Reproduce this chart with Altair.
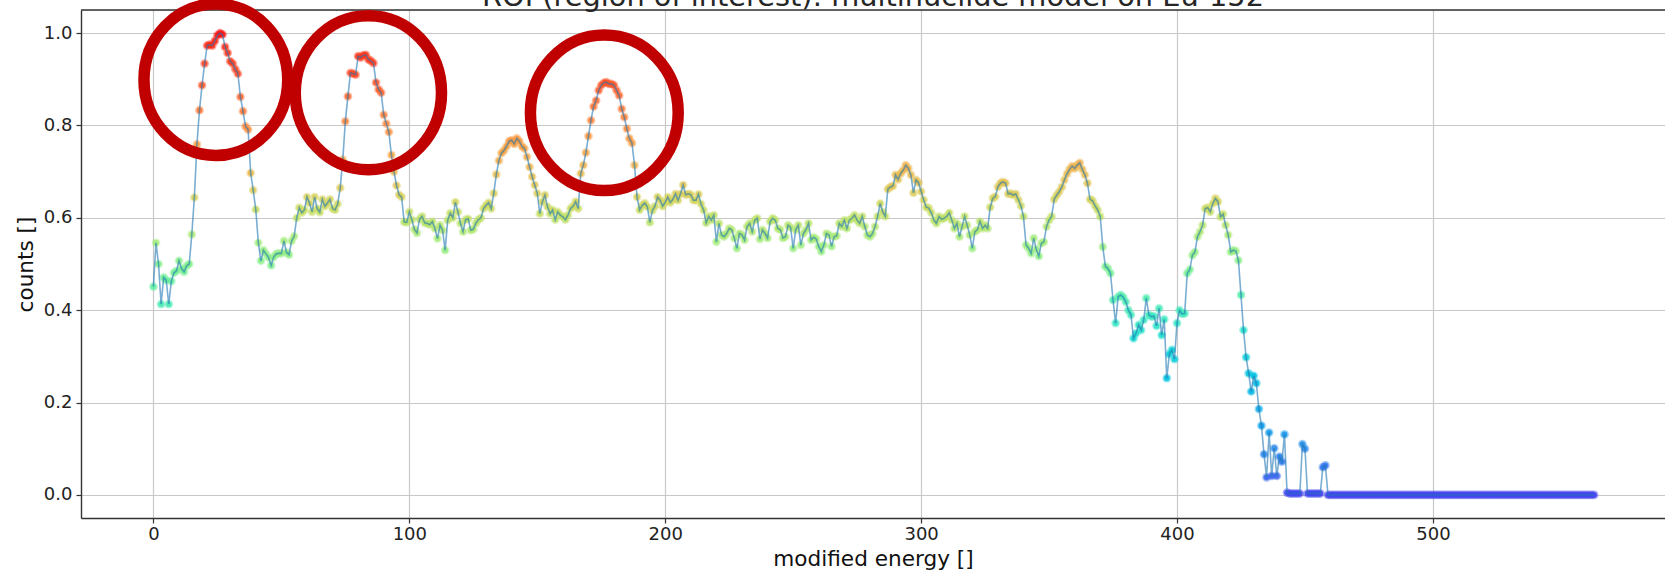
import altair as alt
import pandas as pd

# ---- data (counts per modified-energy channel) ----
seg_a = [0.451, 0.546, 0.500, 0.413, 0.471, 0.465, 0.413, 0.463, 0.481, 0.485,
         0.507, 0.490, 0.483, 0.496, 0.500, 0.564, 0.644, 0.759, 0.833, 0.887,
         0.934, 0.973, 0.975, 0.973, 0.983, 0.995, 1.000, 0.997, 0.970, 0.957,
         0.939, 0.934, 0.922, 0.912, 0.862, 0.831, 0.798, 0.791, 0.697, 0.660,
         0.618, 0.546, 0.507, 0.530, 0.522, 0.514, 0.497, 0.515, 0.522, 0.523,
         0.523, 0.550, 0.525, 0.520, 0.550, 0.560, 0.600, 0.622, 0.611, 0.617]
seg_b = [0.645, 0.632, 0.613, 0.645, 0.620, 0.612, 0.640, 0.625, 0.632, 0.640,
         0.620, 0.617, 0.630, 0.665, 0.726, 0.809, 0.863, 0.914, 0.912, 0.910,
         0.950, 0.947, 0.952, 0.953, 0.943, 0.940, 0.935, 0.893, 0.878, 0.871,
         0.823, 0.804, 0.786, 0.736, 0.700, 0.670, 0.650, 0.645, 0.591, 0.590]
seg_c = [0.613, 0.596, 0.575, 0.567, 0.597, 0.603, 0.589, 0.588, 0.585, 0.592,
         0.577, 0.555, 0.584, 0.573, 0.530, 0.595, 0.610, 0.600, 0.634, 0.613,
         0.588, 0.570, 0.596, 0.598, 0.573, 0.575, 0.588, 0.596, 0.600, 0.620,
         0.627, 0.633, 0.620, 0.653, 0.694, 0.724, 0.740, 0.746, 0.755, 0.766,
         0.768, 0.760, 0.772, 0.766, 0.755, 0.750, 0.732]
seg_d = [0.710, 0.689, 0.671, 0.653, 0.609, 0.635, 0.649, 0.624, 0.609, 0.617,
         0.596, 0.613, 0.606, 0.602, 0.596, 0.606, 0.620, 0.625, 0.635, 0.620,
         0.696, 0.714, 0.741, 0.777, 0.811, 0.841, 0.854, 0.876, 0.887, 0.892,
         0.894, 0.890, 0.890, 0.887, 0.876, 0.865, 0.836, 0.818, 0.793, 0.772,
         0.762, 0.714, 0.645, 0.617, 0.627, 0.632, 0.624, 0.590, 0.616, 0.625,
         0.645, 0.638, 0.625, 0.634, 0.645, 0.633, 0.640, 0.652, 0.638, 0.652,
         0.671, 0.650, 0.652, 0.650, 0.638, 0.638, 0.651, 0.630, 0.617, 0.589,
         0.603, 0.595, 0.606, 0.548]
seg_e = [0.588, 0.563, 0.559, 0.566, 0.577, 0.574, 0.556, 0.534, 0.566, 0.563,
         0.552, 0.581, 0.588, 0.570, 0.595, 0.599, 0.554, 0.574, 0.566, 0.556,
         0.592, 0.599, 0.595, 0.577, 0.574, 0.556, 0.559, 0.584, 0.579, 0.534,
         0.574, 0.584, 0.541, 0.566, 0.574, 0.588, 0.552, 0.558, 0.554, 0.538,
         0.527, 0.541, 0.566, 0.563, 0.538, 0.559, 0.561, 0.588, 0.581, 0.595,
         0.577, 0.595, 0.599, 0.606, 0.595, 0.588, 0.603, 0.581, 0.563, 0.559,
         0.566, 0.581, 0.603, 0.631, 0.613, 0.603, 0.662, 0.667, 0.669, 0.693,
         0.683, 0.696, 0.703, 0.714]
seg_f = [0.707, 0.693, 0.654, 0.682, 0.676, 0.657, 0.639, 0.623, 0.621, 0.611,
         0.595, 0.588, 0.603, 0.597, 0.599, 0.603, 0.611, 0.595, 0.577, 0.588,
         0.559, 0.581, 0.603, 0.584, 0.563, 0.534, 0.570, 0.574, 0.592, 0.577,
         0.584, 0.577, 0.623, 0.642, 0.646, 0.667, 0.675, 0.678, 0.675, 0.652,
         0.653, 0.649, 0.652, 0.639, 0.626, 0.603, 0.541, 0.534, 0.523, 0.556,
         0.532, 0.517, 0.545, 0.548, 0.581, 0.595, 0.603, 0.640, 0.649, 0.657,
         0.667, 0.682, 0.695, 0.705, 0.712, 0.707, 0.714, 0.719, 0.705, 0.693,
         0.675, 0.640, 0.637, 0.626, 0.617, 0.603]
seg_g = [0.537, 0.495, 0.490, 0.480, 0.422, 0.372, 0.429, 0.433, 0.428, 0.418,
         0.400, 0.390, 0.339, 0.350, 0.368, 0.357, 0.379, 0.426, 0.390, 0.386,
         0.387, 0.366, 0.404, 0.346, 0.380, 0.253, 0.305, 0.314, 0.294, 0.372,
         0.400, 0.392, 0.393]
seg_h = [0.480, 0.488, 0.519, 0.526, 0.559, 0.570, 0.584, 0.620, 0.622, 0.613,
         0.631, 0.642, 0.635, 0.602, 0.608, 0.584, 0.563, 0.526, 0.530, 0.528,
         0.508, 0.433, 0.357, 0.298, 0.263, 0.224, 0.258, 0.242, 0.186, 0.150,
         0.088, 0.038, 0.135, 0.041, 0.101, 0.041, 0.083, 0.072, 0.131, 0.005,
         0.003, 0.003, 0.003, 0.003, 0.003, 0.110, 0.100, 0.003, 0.003, 0.003,
         0.003, 0.003, 0.003, 0.060, 0.064]
seg_tail = [0.0] * 105

counts = seg_a + seg_b + seg_c + seg_d + seg_e + seg_f + seg_g + seg_h + seg_tail
energy = list(range(len(counts)))

# annotation ellipses (centres in data units) drawn around the three main peaks
ann_energy = [24.4, 84.0, 176.2]
ann_counts = [0.899, 0.871, 0.8275]
ann_size = [22900, 23700, 24200]

x_ticks = [0, 100, 200, 300, 400, 500]
y_ticks = [0.0, 0.2, 0.4, 0.6, 0.8, 1.0]

color_stops = [0.0, 0.05, 0.1, 0.2, 0.28, 0.38, 0.47, 0.55, 0.61, 0.66, 0.72, 0.8, 0.9, 1.0]
color_range = ["#4444ee", "#3a6cee", "#2c8cea", "#1aaee6", "#1ccbdc", "#3ae6c0",
               "#6cf098", "#a4ec7c", "#c4de62", "#dcca58", "#f0ae4c", "#ff8a3e",
               "#ff4c26", "#ff0c0c"]

title_text = "ROI (region of interest): multinuclide model on Eu-152"

FONT = "DejaVu Sans"
W, H = 1584, 508

df = pd.DataFrame({"energy": energy, "counts": counts})
ann = pd.DataFrame({"energy": ann_energy, "counts": ann_counts, "s": ann_size})

xscale = alt.Scale(domain=[-28.3, 590.7], nice=False, zero=False)
yscale = alt.Scale(domain=[-0.05, 1.05], nice=False, zero=False)

axis_common = dict(labelFont=FONT, titleFont=FONT, labelFontSize=18, titleFontSize=21.6,
                   titleFontWeight="normal", labelColor="#222222", titleColor="#111111",
                   tickSize=5, tickColor="#333333", tickWidth=1.2,
                   domainColor="#333333", domainWidth=1.4,
                   grid=True, gridColor="#c8c8c8", gridWidth=1.2)

X = alt.X("energy:Q", scale=xscale,
          axis=alt.Axis(values=x_ticks, format="d", title="modified energy []",
                        labelPadding=2, titlePadding=5, **axis_common))
Y = alt.Y("counts:Q", scale=yscale,
          axis=alt.Axis(values=y_ticks, format=".1f", title="counts []",
                        labelPadding=4, titlePadding=6, **axis_common))
C = alt.Color("counts:Q", scale=alt.Scale(domain=color_stops, range=color_range), legend=None)

base = alt.Chart(df)
halo = base.mark_circle(size=76, opacity=0.45).encode(x=X, y=Y, color=C)
core = base.mark_circle(size=34, opacity=0.85).encode(x=X, y=Y, color=C)
line = base.mark_line(color="#1f77b4", opacity=0.6, strokeWidth=1.6).encode(x=X, y=Y)

top_rule = alt.Chart(pd.DataFrame({"k": [0]})).mark_rule(
    color="#333333", strokeWidth=1.4).encode(
    x=alt.value(0), x2=alt.value(W), y=alt.value(0))

title = alt.Chart(pd.DataFrame({"t": [title_text]})).mark_text(
    font=FONT, fontSize=28.8, color="#262626", align="center", baseline="alphabetic").encode(
    text="t:N", x=alt.value(W / 2), y=alt.value(-4))

ellipse_path = ("M 0.95 0 C 0.95 0.5523 0.5247 1 0 1 C -0.5247 1 -0.95 0.5523 -0.95 0 "
                "C -0.95 -0.5523 -0.5247 -1 0 -1 C 0.5247 -1 0.95 -0.5523 0.95 0 Z")
rings = alt.Chart(ann).mark_point(
    shape=ellipse_path, filled=False, color="#c00000", strokeWidth=11.5, opacity=1).encode(
    x=alt.X("energy:Q", scale=xscale),
    y=alt.Y("counts:Q", scale=yscale),
    size=alt.Size("s:Q", scale=None))

chart = alt.layer(halo, core, line, top_rule, title, rings).properties(
    width=W, height=H,
    autosize=alt.AutoSizeParams(type="none"),
    padding={"left": 81, "top": 10, "right": 0, "bottom": 59},
).configure_view(stroke=None).configure(background="white")

chart.save("out.html", embed_options={"renderer": "svg", "actions": False})
